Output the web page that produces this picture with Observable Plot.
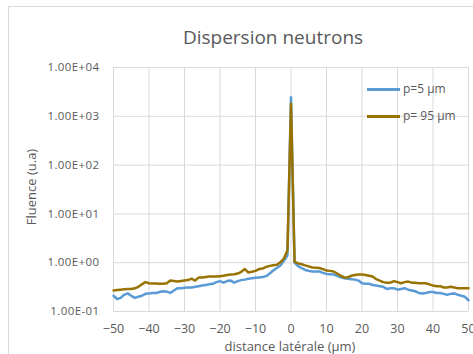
<!DOCTYPE html>
<html><head><meta charset="utf-8">
<script src="https://cdn.jsdelivr.net/npm/d3@7"></script>
<script src="https://cdn.jsdelivr.net/npm/@observablehq/plot@0.6"></script>
<style>
body{margin:0;background:#fff;font-family:"Open Sans",sans-serif;}
#wrap{position:relative;width:473px;height:354px;overflow:hidden;background:#fff}
#border{position:absolute;left:8px;top:6px;width:470px;height:360px;border:1px solid #d9d9d9;box-sizing:border-box}
#chart{position:absolute;left:0;top:0}
#title{position:absolute;left:0;width:546px;top:24px;line-height:26px;text-align:center;font-size:19px;color:#595959}
#xlabel{position:absolute;left:0;width:580px;top:339px;line-height:15px;text-align:center;font-size:13px;color:#595959}
#ylabel{position:absolute;left:31px;top:187px;transform:translate(-50%,-50%) rotate(-90deg);white-space:nowrap;font-size:13px;color:#595959;line-height:18px}
.leg{position:absolute;left:367px;height:16px;font-size:12px;color:#595959;white-space:nowrap}
.leg span.sw{position:absolute;left:0;top:7px;width:33px;height:2.5px}
.leg span.tx{position:absolute;left:36px;top:0;line-height:16px}
g[aria-label="y-axis tick label"] text{letter-spacing:0.4px}
</style>
</head><body>
<div id="wrap">
  <div id="border"></div>
  <div id="chart"></div>
  <div id="title">Dispersion neutrons</div>
  <div id="xlabel">distance latérale (µm)</div>
  <div id="ylabel">Fluence (u.a)</div>
  <div id="legend"></div>
</div>
<script>
const seriesNames = ["p=5 µm", "p= 95 µm"];
const seriesColors = ["#5B9BD5", "#997300"];

const distance = [-50,-49,-48,-47,-46,-45,-44,-43,-42,-41,-40,-39,-38,-37,-36,-35,-34,-33,-32,-31,
-30,-29,-28,-27,-26,-25,-24,-23,-22,-21,-20,-19,-18,-17,-16,-15,-14,-13,-12,-11,
-10,-9,-8,-7,-6,-5,-4,-3,-2,-1,0,1,2,3,4,5,6,7,8,9,10,
11,12,13,14,15,16,17,18,19,20,21,22,23,24,25,26,27,28,29,30,
31,32,33,34,35,36,37,38,39,40,41,42,43,44,45,46,47,48,49,50];

const fluenceP5 = [
0.21,0.18,0.19,0.22,0.235,0.21,0.19,0.20,0.21,0.23,
0.235,0.24,0.24,0.25,0.26,0.255,0.24,0.27,0.30,0.30,
0.305,0.31,0.31,0.32,0.33,0.34,0.35,0.36,0.37,0.40,
0.42,0.39,0.42,0.43,0.39,0.42,0.44,0.45,0.47,0.48,
0.49,0.50,0.51,0.53,0.60,0.69,0.78,0.88,1.1,1.4,
2450,
1.0,0.85,0.77,0.71,0.68,0.66,0.66,0.66,0.62,0.59,
0.58,0.57,0.54,0.50,0.48,0.47,0.46,0.45,0.43,0.38,
0.37,0.37,0.35,0.34,0.33,0.32,0.29,0.30,0.30,0.28,
0.29,0.30,0.28,0.27,0.26,0.24,0.235,0.24,0.25,0.25,
0.24,0.24,0.23,0.22,0.23,0.235,0.22,0.21,0.20,0.17];

const fluenceP95 = [
0.27,0.275,0.28,0.285,0.29,0.29,0.30,0.32,0.36,0.40,
0.38,0.375,0.375,0.37,0.37,0.38,0.43,0.42,0.41,0.42,
0.43,0.44,0.47,0.43,0.50,0.50,0.51,0.52,0.52,0.52,
0.53,0.54,0.56,0.57,0.58,0.60,0.65,0.74,0.63,0.65,
0.68,0.74,0.76,0.82,0.86,0.89,0.91,1.02,1.22,1.8,
1800,
1.05,0.97,0.93,0.88,0.84,0.80,0.79,0.78,0.74,0.69,
0.68,0.66,0.60,0.54,0.50,0.50,0.54,0.56,0.57,0.57,
0.56,0.54,0.52,0.46,0.43,0.40,0.39,0.39,0.42,0.40,
0.38,0.40,0.41,0.39,0.39,0.38,0.38,0.38,0.36,0.34,
0.33,0.33,0.31,0.31,0.32,0.31,0.30,0.30,0.30,0.30];

const xTicks = [-50,-40,-30,-20,-10,0,10,20,30,40,50];
const yTicks = [0.1,1,10,100,1000,10000];

const rows = [];
distance.forEach((d,i)=>{
  rows.push({x:d, y:fluenceP5[i], s:seriesNames[0]});
});
distance.forEach((d,i)=>{
  rows.push({x:d, y:fluenceP95[i], s:seriesNames[1]});
});

const fmtE = v => {
  const [m,e] = v.toExponential(2).split("e");
  return m + "E" + e[0] + e.slice(1).padStart(2,"0");
};

const chart = Plot.plot({
  width: 473,
  height: 354,
  marginLeft: 113,
  marginRight: 5,
  marginTop: 67,
  marginBottom: 43,
  style: {fontFamily: '"Open Sans", sans-serif', color: "#595959", background: "transparent"},
  x: {domain: [-50, 50]},
  y: {type: "log", domain: [0.1, 10000]},
  color: {domain: seriesNames, range: seriesColors},
  marks: [
    Plot.gridX(xTicks, {stroke: "#d9d9d9", strokeOpacity: 1, strokeWidth: 1}),
    Plot.gridY(yTicks, {stroke: "#d9d9d9", strokeOpacity: 1, strokeWidth: 1}),
    Plot.axisX(xTicks, {tickSize: 0, tickPadding: 13, fontSize: 12.5, label: null}),
    Plot.axisY(yTicks, {tickSize: 0, tickPadding: 14, fontSize: 11.5, label: null, tickFormat: fmtE}),
    Plot.line(rows, {x: "x", y: "y", z: "s", stroke: "s", strokeWidth: 2.5, strokeLinejoin: "round"})
  ]
});
document.getElementById("chart").appendChild(chart);

const legend = document.getElementById("legend");
const legTops = [81, 108];
seriesNames.forEach((n,i)=>{
  const d = document.createElement("div");
  d.className = "leg";
  d.style.top = legTops[i] + "px";
  d.innerHTML = `<span class="sw" style="background:${seriesColors[i]}"></span><span class="tx">${n}</span>`;
  legend.appendChild(d);
});
</script>
</body></html>
